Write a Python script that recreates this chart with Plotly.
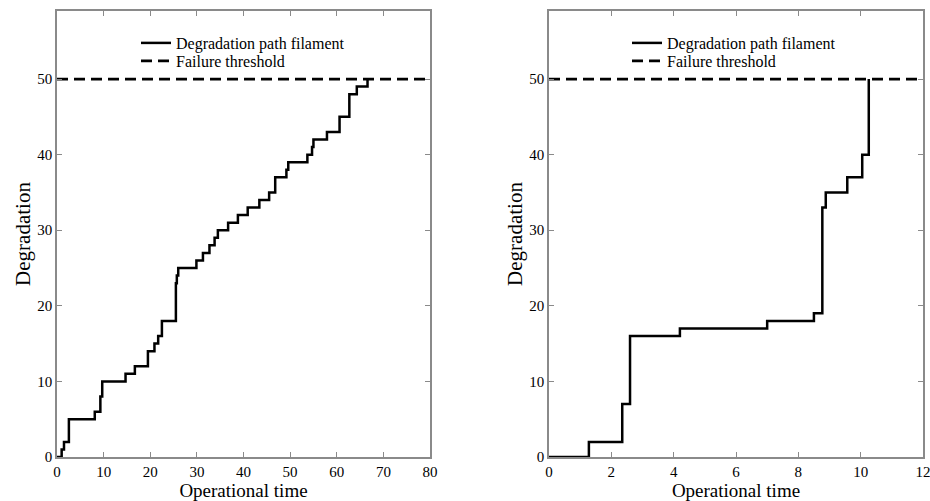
import plotly.graph_objects as go

# Left panel: degradation path (step times and levels)
left_time = [0, 1.0, 1.5, 2.55, 8.1, 9.3, 9.7, 14.7, 16.7, 19.5, 20.9, 21.7, 22.5,
             25.5, 25.7, 26.0, 29.9, 31.3, 32.7, 33.8, 34.5, 36.7, 38.8, 40.9, 43.4,
             45.5, 46.8, 49.2, 49.6, 53.7, 54.7, 55.0, 57.9, 60.6, 62.7, 64.3, 66.6]
left_deg = [0, 1, 2, 5, 6, 8, 10, 11, 12, 14, 15, 16, 18,
            23, 24, 25, 26, 27, 28, 29, 30, 31, 32, 33, 34,
            35, 37, 38, 39, 40, 41, 42, 43, 45, 48, 49, 50]

# Right panel
right_time = [0, 1.28, 2.35, 2.6, 4.2, 7.0, 8.5, 8.77, 8.88, 9.57, 10.05, 10.26]
right_deg = [0, 2, 7, 16, 17, 18, 19, 33, 35, 37, 40, 50]

threshold = 50
left_xrange = [0, 80]
right_xrange = [0, 12]
yrange = [0, 59]
y_ticks = [0, 10, 20, 30, 40, 50]
left_x_ticks = [0, 10, 20, 30, 40, 50, 60, 70, 80]
right_x_ticks = [0, 2, 4, 6, 8, 10, 12]

FONT = "Liberation Serif"
fig = go.Figure()

fig.add_trace(go.Scatter(x=left_time, y=left_deg, mode="lines", line=dict(color="black", width=2.5, shape="hv"),
                         name="Degradation path filament", xaxis="x", yaxis="y", legend="legend",
                         showlegend=True))
fig.add_trace(go.Scatter(x=left_xrange, y=[threshold, threshold], mode="lines",
                         line=dict(color="black", width=2.8, dash="11px,6px"),
                         name="Failure threshold", xaxis="x", yaxis="y", legend="legend2", showlegend=True))
fig.add_trace(go.Scatter(x=right_time, y=right_deg, mode="lines", line=dict(color="black", width=2.5, shape="hv"),
                         name="Degradation path filament", xaxis="x2", yaxis="y2", legend="legend3",
                         showlegend=True))
fig.add_trace(go.Scatter(x=right_xrange, y=[threshold, threshold], mode="lines",
                         line=dict(color="black", width=2.8, dash="11px,6px"),
                         name="Failure threshold", xaxis="x2", yaxis="y2", legend="legend4", showlegend=True))

ml, mr, mt, mb = 57, 7, 11, 44
W, H = 930, 501
pw = W - ml - mr
ph = H - mt - mb

axis_common = dict(showline=True, mirror="ticks", linecolor="#8a8a8a", linewidth=1.5,
                   ticks="inside", ticklen=5, tickcolor="#8a8a8a", tickwidth=1,
                   showgrid=False, zeroline=False, automargin=False, ticklabeloverflow="allow",
                   tickfont=dict(family=FONT, size=15, color="black"))
xtitle = dict(text="Operational time", font=dict(family=FONT, size=19), standoff=10)
ytitle = dict(text="Degradation", font=dict(family=FONT, size=21), standoff=1)


def leg(px, py):
    return dict(x=(px - ml) / pw, y=1 - (py - mt) / ph, xanchor="left", yanchor="top",
                bgcolor="rgba(0,0,0,0)", font=dict(family=FONT, size=16), tracegroupgap=0,
                itemwidth=30, visible=True)


fig.update_layout(
    width=W, height=H,
    showlegend=True,
    margin=dict(l=ml, r=mr, t=mt, b=mb),
    paper_bgcolor="white", plot_bgcolor="white",
    font=dict(family=FONT, color="black"),
    xaxis=dict(domain=[0, (430 - ml) / pw], range=left_xrange, tickvals=left_x_ticks, anchor="y",
               title=xtitle, **axis_common),
    yaxis=dict(domain=[0, 1], range=yrange, tickvals=y_ticks, anchor="x",
               title=ytitle, **axis_common),
    xaxis2=dict(domain=[(549 - ml) / pw, 1], range=right_xrange, tickvals=right_x_ticks, anchor="y2",
                title=xtitle, **axis_common),
    yaxis2=dict(domain=[0, 1], range=yrange, tickvals=y_ticks, anchor="x2",
                title=ytitle, **axis_common),
    legend=leg(136, 26),
    legend2=leg(136, 44),
    legend3=leg(627, 26),
    legend4=leg(627, 44),
)

fig.write_html("out.html", config={"displayModeBar": False},
               post_script="document.body.style.margin='0px';")
